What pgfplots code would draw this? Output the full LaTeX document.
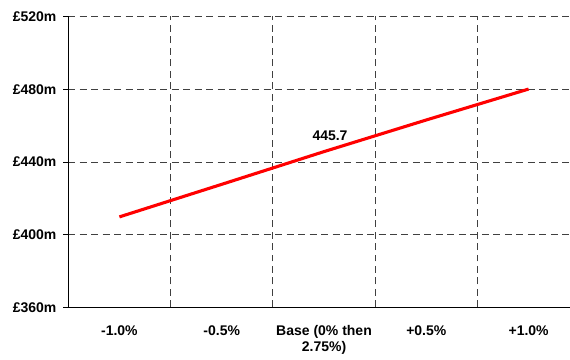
\documentclass[border=0pt]{standalone}
\usepackage{pgfplots}
\pgfplotsset{compat=1.18}
\usepackage{fontspec}
\setmainfont{Liberation Sans}

\begin{document}
\fontsize{14}{16}\selectfont\bfseries
\begin{tikzpicture}
\begin{axis}[
  scale only axis,
  width=501.7pt, height=291.2pt,
  at={(0,0)}, anchor=south west,
  xmin=-0.5, xmax=4.4,
  ymin=360, ymax=520,
  ytick={360,400,440,480,520},
  yticklabel={£\pgfmathprintnumber{\tick}m},
  /pgf/number format/assume math mode=true,
  xtick={0,1,2,3,4},
  xticklabels={-1.0\%,-0.5\%,{Base (0\% then\\2.75\%)},+0.5\%,+1.0\%},
  xticklabel style={align=center, yshift=-8pt},
  major x tick style={draw=none},
  extra x ticks={0.5,1.5,2.5,3.5},
  extra x tick labels={},
  extra x tick style={grid=major, tick style={draw=black, line width=0.8pt}},
  axis x line*=bottom,
  axis y line*=left,
  axis line style={black, line width=0.9pt, -},
  tick align=outside,
  major tick length=5pt,
  ytick style={draw=black, line width=0.8pt},
  ymajorgrids,
  major grid style={black!75, line width=0.8pt, dash pattern=on 7pt off 4.5pt},
  yticklabel style={xshift=-2pt},
  clip=false,
]
\addplot[red, line width=3.1pt] coordinates {
  (0,409.8) (1,427.7) (2,445.7) (3,463.1) (4,480.1)
};
\addplot[draw=none, nodes near coords, point meta=explicit,
  nodes near coords style={anchor=center, xshift=6pt, yshift=16pt,
    /pgf/number format/.cd, fixed, precision=1, zerofill, assume math mode=true}]
  coordinates {(2,445.7) [445.7]};
\end{axis}
\path[use as bounding box] (-68.3pt,-48.3pt) rectangle (501.7pt,307.7pt);
\end{tikzpicture}
\end{document}
